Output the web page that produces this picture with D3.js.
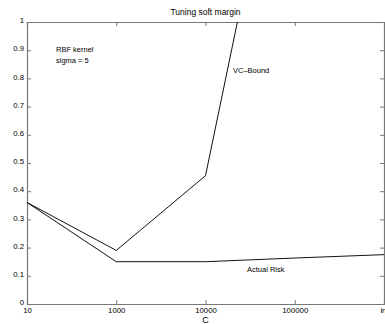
<!DOCTYPE html>
<html><head><meta charset="utf-8">
<script src="https://cdn.jsdelivr.net/npm/d3@7"></script>
<style>
html,body{margin:0;padding:0;background:#fff;}
svg{display:block;}
text{font-family:"Liberation Sans",Arial,Helvetica,sans-serif;fill:#000;}
</style></head>
<body>
<svg id="chart" width="385" height="324"></svg>
<script>
const categories = ["10", "1000", "10000", "100000", "inf"];
const vcBound = [0.36, 0.19, 0.455, 1.98, 3.5];
const actualRisk = [0.36, 0.15, 0.15, 0.163, 0.175];
const yTicks = [0, 0.1, 0.2, 0.3, 0.4, 0.5, 0.6, 0.7, 0.8, 0.9, 1];

(function () {
const svg = d3.select("#chart");
const mLeft = 27, mRight = 384, mTop = 22, mBottom = 304;

const x = d3.scalePoint().domain(categories).range([mLeft, mRight]);
const y = d3.scaleLinear().domain([0, 1]).range([mBottom, mTop]);

svg.append("defs").append("clipPath").attr("id", "clip")
  .append("rect").attr("x", mLeft).attr("y", mTop).attr("width", mRight - mLeft).attr("height", mBottom - mTop);

const axisColor = "#777";
const tl = 4;

const gx = svg.append("g").attr("transform", `translate(0,${mBottom})`)
  .call(d3.axisBottom(x).tickSize(-tl).tickPadding(4));
const gxTop = svg.append("g").attr("transform", `translate(0,${mTop})`)
  .call(d3.axisTop(x).tickSize(-tl).tickFormat(""));
const gy = svg.append("g").attr("transform", `translate(${mLeft},0)`)
  .call(d3.axisLeft(y).tickValues(yTicks).tickSize(-tl).tickPadding(3).tickFormat(d3.format("")));
const gyR = svg.append("g").attr("transform", `translate(${mRight},0)`)
  .call(d3.axisRight(y).tickValues(yTicks).tickSize(-tl).tickFormat(""));

[gx, gxTop, gy, gyR].forEach(g => {
  g.selectAll(".domain").attr("stroke", axisColor).attr("stroke-width", 1.2);
  g.selectAll(".tick line").attr("stroke", axisColor);
  g.selectAll("text").attr("font-size", 7.8).attr("fill", "#000")
    .attr("font-family", "Liberation Sans, Arial, sans-serif");
});
gy.selectAll(".tick text").attr("dy", "0.1em");
gx.selectAll(".tick text").attr("dy", "0.6em");

const line = d3.line().x((d, i) => x(categories[i])).y(d => y(d));
const plot = svg.append("g").attr("clip-path", "url(#clip)");
plot.append("path").datum(vcBound).attr("d", line)
  .attr("fill", "none").attr("stroke", "#111").attr("stroke-width", 1);
plot.append("path").datum(actualRisk).attr("d", line)
  .attr("fill", "none").attr("stroke", "#111").attr("stroke-width", 1);

svg.append("text").attr("x", (mLeft + mRight) / 2).attr("y", 15)
  .attr("text-anchor", "middle").attr("font-size", 8.5).text("Tuning soft margin");
svg.append("text").attr("x", (mLeft + mRight) / 2).attr("y", 323)
  .attr("text-anchor", "middle").attr("font-size", 9).text("C");
svg.append("text").attr("x", 56).attr("y", 52).attr("font-size", 7.5).text("RBF kernel");
svg.append("text").attr("x", 56).attr("y", 63).attr("font-size", 7.5).text("sigma = 5");
svg.append("text").attr("x", 233).attr("y", 73).attr("font-size", 7.5).text("VC–Bound");
svg.append("text").attr("x", 247).attr("y", 272).attr("font-size", 7.5).text("Actual Risk");
})();
</script>
</body></html>
